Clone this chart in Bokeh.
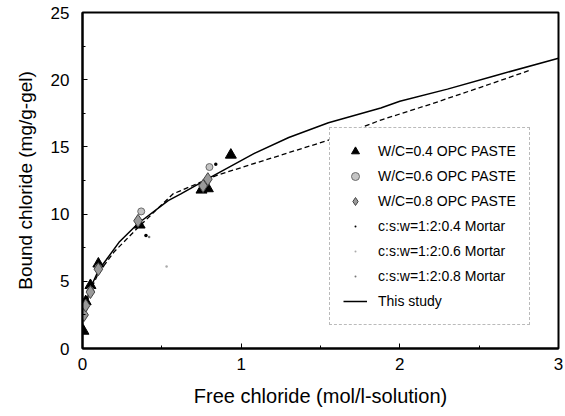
from bokeh.plotting import figure
from bokeh.models import Range1d, SingleIntervalTicker, Legend
from bokeh.embed import file_html
from bokeh.resources import INLINE

# ---- data ----
wc04_x = [0.006, 0.02, 0.05, 0.10, 0.36, 0.75, 0.79, 0.935]
wc04_y = [1.3, 3.5, 4.7, 6.3, 9.2, 11.8, 11.9, 14.4]

wc06_x = [0.01, 0.05, 0.10, 0.37, 0.78, 0.80]
wc06_y = [3.0, 4.3, 6.0, 10.2, 12.4, 13.5]

wc08_x = [0.01, 0.02, 0.05, 0.10, 0.35, 0.76, 0.79]
wc08_y = [2.5, 3.2, 4.2, 5.9, 9.5, 12.1, 12.6]

m04_x = [0.40, 0.84]
m04_y = [8.4, 13.7]
m06_x = [0.53]
m06_y = [6.1]
m08_x = [0.42]
m08_y = [8.3]

study_x = [0.0, 0.02, 0.05, 0.10, 0.15, 0.23, 0.35, 0.54, 0.62, 0.80, 1.08, 1.30, 1.55, 1.88, 2.00, 2.30, 2.60, 3.00]
study_y = [2.0, 3.3, 4.5, 5.8, 6.6, 7.9, 9.3, 11.0, 11.5, 12.7, 14.5, 15.7, 16.8, 17.9, 18.4, 19.3, 20.3, 21.6]

fit_x = [0.0, 0.05, 0.10, 0.20, 0.35, 0.57, 0.85, 1.20, 1.55, 1.88, 2.20, 2.50, 2.82]
fit_y = [2.3, 4.3, 5.6, 7.2, 9.0, 11.5, 12.9, 14.2, 15.5, 17.0, 18.2, 19.4, 20.7]

FONT = "Liberation Sans"

p = figure(width=563, height=414, output_backend="svg", toolbar_location=None,
           x_range=Range1d(0, 3), y_range=Range1d(0, 25),
           min_border_left=82, min_border_right=5, min_border_top=12, min_border_bottom=66)
p.grid.visible = False
p.outline_line_color = "black"
p.outline_line_width = 2

p.line(fit_x, fit_y, line_color="black", line_width=1.3, line_dash="5 3")
r_study = p.line(study_x, study_y, line_color="black", line_width=1.5)

r1 = p.scatter(wc04_x, wc04_y, marker="triangle", size=11, fill_color="black", line_color="black")
r2 = p.scatter(wc06_x, wc06_y, marker="circle", size=7, fill_color="#c4c4c4", line_color="#6a6a6a")
r3 = p.scatter(wc08_x, wc08_y, marker="diamond", size=13, fill_color="#9a9a9a", line_color="#444444")
r4 = p.scatter(m04_x, m04_y, marker="dot", size=14, fill_color="black", line_color="black")
r5 = p.scatter(m06_x, m06_y, marker="dot", size=10, fill_color="#aaaaaa", line_color="#aaaaaa")
r6 = p.scatter(m08_x, m08_y, marker="dot", size=10, fill_color="#777777", line_color="#777777")

legend = Legend(items=[
    ("W/C=0.4 OPC PASTE", [r1]),
    ("W/C=0.6 OPC PASTE", [r2]),
    ("W/C=0.8 OPC PASTE", [r3]),
    ("c:s:w=1:2:0.4 Mortar", [r4]),
    ("c:s:w=1:2:0.6 Mortar", [r5]),
    ("c:s:w=1:2:0.8 Mortar", [r6]),
    ("This study", [r_study]),
], location=(247, 23))
legend.label_text_font = FONT
legend.label_text_font_size = "14px"
legend.label_text_color = "black"
legend.glyph_width = 24
legend.glyph_height = 20
legend.label_height = 20
legend.label_standoff = 11
legend.spacing = 5
legend.padding = 13
legend.margin = 0
legend.border_line_color = "#777777"
legend.border_line_dash = "2 2"
legend.border_line_width = 1
legend.background_fill_color = "white"
legend.background_fill_alpha = 1
p.add_layout(legend)

p.xaxis.ticker = SingleIntervalTicker(interval=1, num_minor_ticks=2)
p.yaxis.ticker = SingleIntervalTicker(interval=5, num_minor_ticks=2)
for ax in (p.xaxis, p.yaxis):
    ax.axis_line_width = 2
    ax.axis_line_color = "black"
    ax.major_tick_in = 5
    ax.major_tick_out = 0
    ax.minor_tick_in = 3
    ax.minor_tick_out = 0
    ax.major_label_text_font = FONT
    ax.major_label_text_font_size = "17px"
    ax.major_label_text_color = "black"
    ax.axis_label_text_font = FONT
    ax.axis_label_text_font_style = "normal"
    ax.axis_label_text_color = "black"

p.xaxis.axis_label = "Free chloride (mol/l-solution)"
p.xaxis.axis_label_text_font_size = "20px"
p.xaxis.major_label_standoff = 9
p.xaxis.axis_label_standoff = 12
p.yaxis.axis_label = "Bound chloride (mg/g-gel)"
p.yaxis.axis_label_text_font_size = "19px"
p.yaxis.major_label_standoff = 13
p.yaxis.axis_label_standoff = 12

open("out.html", "w").write(file_html(p, INLINE))
